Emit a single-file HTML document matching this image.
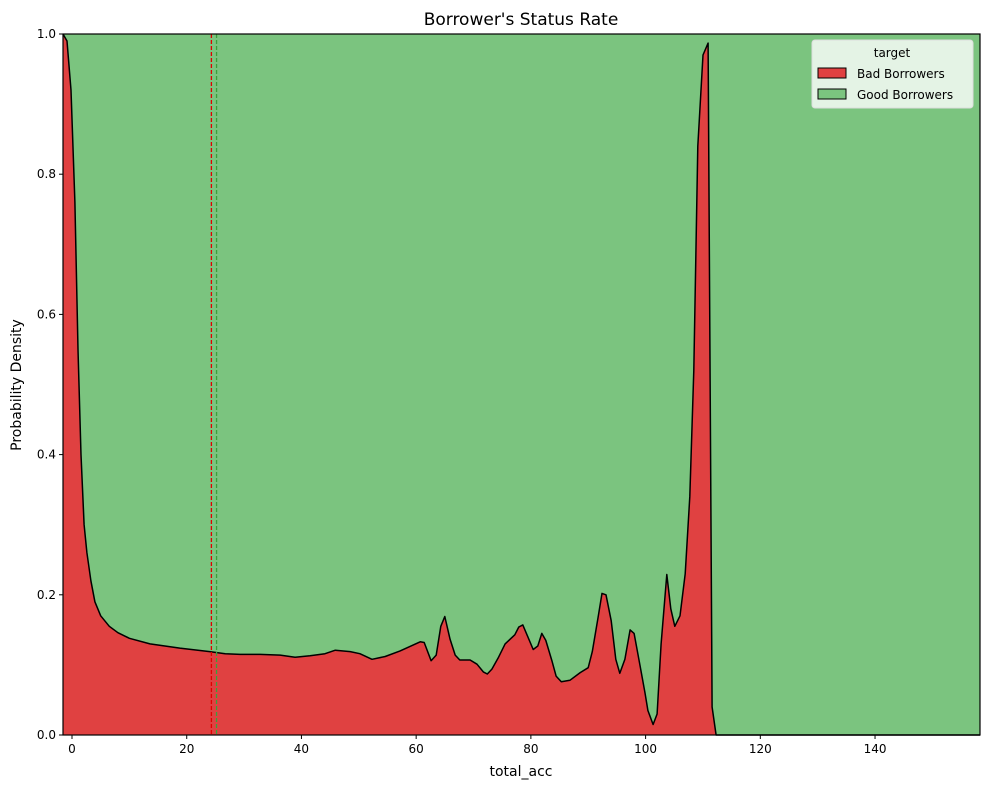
<!DOCTYPE html>
<html><head><meta charset="utf-8"><style>
html,body{margin:0;padding:0;background:#fff;}
svg text{font-family:"DejaVu Sans","Liberation Sans",sans-serif;fill:#000;}
</style></head><body>
<svg id="chart" width="989" height="790" viewBox="0 0 989 790">
<text x="521" y="25" font-size="17" text-anchor="middle">Borrower's Status Rate</text>
<g id="plot"></g>
<g id="axes"></g>
<text x="521" y="776" font-size="14" text-anchor="middle">total_acc</text>
<text x="21" y="385" font-size="14" text-anchor="middle" transform="rotate(-90 21 385)">Probability Density</text>
<g>
<rect x="812" y="40" width="161" height="68" rx="3" fill="#fff" fill-opacity="0.8" stroke="#ddd"/>
<text x="892" y="57" font-size="12" text-anchor="middle">target</text>
<rect x="818" y="68" width="28" height="10" fill="#e04141" stroke="#000"/>
<text x="857" y="78" font-size="12">Bad Borrowers</text>
<rect x="818" y="89" width="28" height="10" fill="#7bc47f" stroke="#000"/>
<text x="857" y="99" font-size="12">Good Borrowers</text>
</g>
</svg>
<script>
const xs=[-1.57,-0.87,-0.17,0.5,1.05,1.57,2.1,2.6,3.3,4.0,5.0,6.5,8.0,10,13.6,18.8,24,26.7,29.3,32.8,36.3,38.9,41.5,44.1,45.9,48.5,50.2,52.3,54.6,57.2,60.7,61.4,62.6,63.5,64.3,65,65.9,66.8,67.6,69.4,70.6,71.7,72.4,73.2,74.3,75.5,77.2,77.9,78.6,80.4,81.2,81.9,82.6,83.7,84.4,85.3,86.8,88.6,90,90.7,91.7,92.4,93.1,94,94.8,95.5,96.4,97.3,98,99,99.9,100.4,101.3,102,102.7,103.7,104.4,105.1,106,106.9,107.7,108.4,109.1,110,110.9,111.6,112.3,158.3];
const badShare=[1.0,0.99,0.92,0.76,0.55,0.40,0.30,0.26,0.22,0.19,0.17,0.155,0.146,0.138,0.13,0.124,0.119,0.116,0.115,0.115,0.114,0.111,0.113,0.116,0.121,0.119,0.116,0.108,0.112,0.12,0.133,0.132,0.106,0.114,0.155,0.169,0.137,0.114,0.107,0.107,0.101,0.09,0.087,0.094,0.11,0.13,0.143,0.154,0.157,0.122,0.127,0.145,0.135,0.105,0.084,0.076,0.078,0.089,0.096,0.119,0.167,0.202,0.2,0.163,0.108,0.088,0.108,0.15,0.145,0.1,0.06,0.035,0.015,0.03,0.13,0.229,0.18,0.155,0.17,0.23,0.34,0.52,0.84,0.97,0.987,0.04,0,0];
const meanLines=[24.3,25.2];
const xTicks=[0,20,40,60,80,100,120,140];
const yTicks=[0,0.2,0.4,0.6,0.8,1.0];
const X0=-1.57,X1=158.3,L=63,R=980,T=34,B=735;
const sx=v=>L+(v-X0)/(X1-X0)*(R-L);
const sy=v=>B-v*(B-T);
const NS='http://www.w3.org/2000/svg';
const plot=document.getElementById('plot'),axes=document.getElementById('axes');
function mk(tag,attrs,parent){const e=document.createElementNS(NS,tag);for(const k in attrs)e.setAttribute(k,attrs[k]);parent.appendChild(e);return e;}
const good=mk('rect',{x:L,y:T,width:R-L,height:B-T,fill:'#7bc47f'},plot);


let d='M'+sx(xs[0])+','+B;
xs.forEach((x,i)=>{d+=' L'+sx(x).toFixed(1)+','+sy(badShare[i]).toFixed(1);});
d+=' L'+sx(xs[xs.length-1])+','+B+' Z';
const bad=mk('path',{d:d,fill:'#e04141'},plot);


let ld='';xs.forEach((x,i)=>{ld+=(i?' L':'M')+sx(x).toFixed(1)+','+sy(badShare[i]).toFixed(1);});
const line=mk('path',{d:ld,fill:'none',stroke:'#000','stroke-width':1.5,'stroke-linejoin':'round'},plot);


const mcol=['#e00000','#3aa03a'];
meanLines.forEach((m,i)=>{const l=mk('line',{x1:sx(m),x2:sx(m),y1:T,y2:B,stroke:mcol[i],'stroke-width':1.3,'stroke-dasharray':'4,2'},plot);

});
const frame=mk('rect',{x:L,y:T,width:R-L,height:B-T,fill:'none',stroke:'#000','stroke-width':1.2},axes);


xTicks.forEach(t=>{const x=sx(t);mk('line',{x1:x,x2:x,y1:B,y2:B+4,stroke:'#000'},axes);
const tx=mk('text',{x:x,y:B+18,'font-size':12,'text-anchor':'middle'},axes);tx.textContent=t;

});
yTicks.forEach(t=>{const y=sy(t);mk('line',{x1:L-4,x2:L,y1:y,y2:y,stroke:'#000'},axes);
const tx=mk('text',{x:L-7,y:y+4,'font-size':12,'text-anchor':'end'},axes);tx.textContent=t.toFixed(1);

});
</script>
</body></html>
